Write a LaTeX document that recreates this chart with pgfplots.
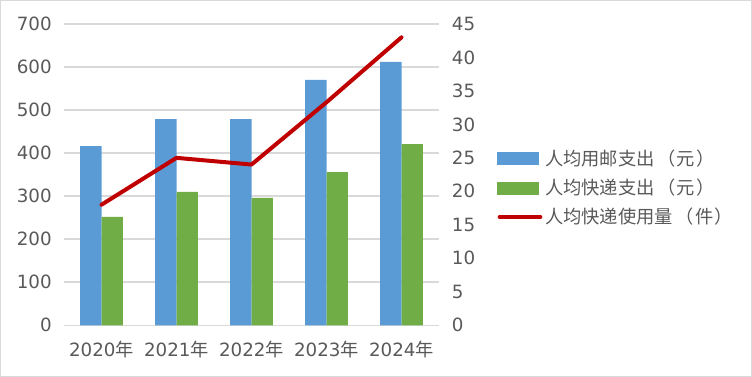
\documentclass[border=0pt]{standalone}
\usepackage{pgfplots}
\pgfplotsset{compat=1.18}
\usepackage{fontspec}
\setmainfont{DejaVu Sans}
\newfontfamily\cjk{Noto Sans CJK SC}
\definecolor{cblue}{HTML}{5B9BD5}
\definecolor{cgreen}{HTML}{70AD47}
\definecolor{cred}{HTML}{C00000}
\definecolor{tgray}{HTML}{595959}
\definecolor{ggray}{HTML}{D9D9D9}
\newcommand\lf{\fontsize{13.7pt}{16pt}\selectfont}
\newcommand\lp{\kern2pt（\kern1pt}
\newcommand\rp{\kern1pt）}
\begin{document}
\begin{tikzpicture}[x=1pt,y=1pt]
\useasboundingbox (0,0) rectangle (564,282.75);
\draw[ggray, line width=1.1pt] (0.55,0.55) rectangle (563.45,282.2);
\begin{axis}[
  at={(48pt,38.8pt)}, anchor=south west, scale only axis,
  width=281.25pt, height=226pt,
  xmin=-0.5, xmax=4.5, ymin=0, ymax=700,
  ybar=0pt, bar width=16.1pt,
  xtick={0,1,2,3,4},
  xticklabels={2020{\cjk 年},2021{\cjk 年},2022{\cjk 年},2023{\cjk 年},2024{\cjk 年}},
  ytick={0,100,...,700},
  ymajorgrids, grid style={ggray, line width=1.1pt},
  axis line style={draw=none},
  major tick length=0pt,
  /pgf/number format/assume math mode=true,
  tick label style={font=\lf, text=tgray},
  yticklabel style={anchor=east, inner sep=0pt, xshift=-9pt},
  xticklabel style={anchor=north, inner sep=0pt, yshift=-11.5pt},
]
\addplot[fill=cblue, draw=none] coordinates {(0,416) (1,479) (2,479) (3,570) (4,612)};
\addplot[fill=cgreen, draw=none] coordinates {(0,252) (1,310) (2,296) (3,356) (4,421)};
\end{axis}
\begin{axis}[
  at={(48pt,38.8pt)}, anchor=south west, scale only axis,
  width=281.25pt, height=226pt,
  xmin=-0.5, xmax=4.5, ymin=0, ymax=45,
  axis y line*=right, axis x line=none,
  ytick={0,5,...,45}, xtick=\empty,
  axis line style={draw=none},
  major tick length=0pt,
  /pgf/number format/assume math mode=true,
  tick label style={font=\lf, text=tgray},
  yticklabel style={anchor=west, inner sep=0pt, xshift=9.5pt},
  legend style={at={(1.155,0.456)}, anchor=west, draw=none, fill=none,
    inner sep=0pt, font=\lf\cjk, text=tgray, row sep=4.6pt,
    /tikz/every even column/.append style={column sep=0pt}},
  legend cell align=left,
]
\addlegendimage{legend image code/.code={\fill[cblue] (0pt,-4.5pt) rectangle (30.75pt,4.5pt);}}
\addlegendentry{人均用邮支出\lp 元\rp}
\addlegendimage{legend image code/.code={\fill[cgreen] (0pt,-4.5pt) rectangle (30.75pt,4.5pt);}}
\addlegendentry{人均快递支出\lp 元\rp}
\addplot[cred, line width=3pt, line cap=round, line join=round, mark=none,
  legend image code/.code={\draw[cred, line width=3pt, line cap=round] (1.5pt,0pt) -- (32pt,0pt);}]
  coordinates {(0,18) (1,25) (2,24) (3,33.3) (4,43)};
\addlegendentry{人均快递使用量\lp 件\rp}
\end{axis}
\end{tikzpicture}
\end{document}
